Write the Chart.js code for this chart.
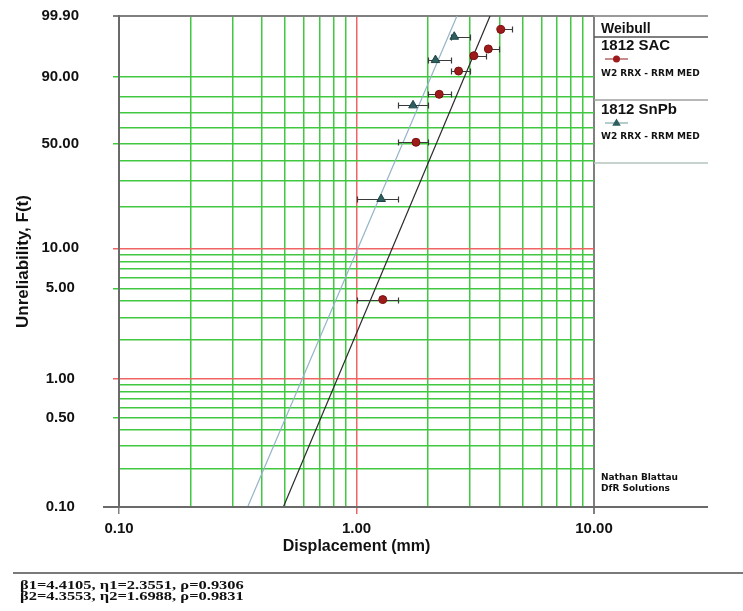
<!DOCTYPE html>
<html>
<head>
<meta charset="utf-8">
<script src="https://cdn.jsdelivr.net/npm/chart.js@4.4.0/dist/chart.umd.min.js"></script>
<style>
  html, body { margin: 0; padding: 0; background: #fff; }
  #wrap { width: 743px; height: 611px; position: relative; }
</style>
</head>
<body>
<div id="wrap"><canvas id="weibullChart"></canvas></div>
<script>
// values: displacement (mm) vs unreliability F(t) in %
const sacDisp  = [1.29, 1.78, 2.23, 2.69, 3.12, 3.59, 4.05];
const sacUnrel = [4.1, 50.9, 81.5, 92.3, 96.6, 97.8, 99.56];
const sacLow   = [1.0, 1.5, 2.0, 2.5, 3.0, 3.5, 4.0];
const sacHigh  = [1.5, 2.0, 2.5, 3.0, 3.5, 4.0, 4.5];

const snpbDisp  = [1.27, 1.73, 2.15, 2.58];
const snpbUnrel = [22.6, 74.9, 95.6, 99.14];
const snpbLow   = [1.0, 1.5, 2.0, 2.5];
const snpbHigh  = [1.5, 2.0, 2.5, 3.0];

// fitted lines, end points where they leave the plot (0.1% and 99.9%)
const sacFitDisp  = [0.492, 3.65];
const snpbFitDisp = [0.348, 2.648];
const fitUnrel    = [0.1, 99.9];

const seriesNames = ['1812 SAC', '1812 SnPb'];
const seriesMethod = 'W2 RRX - RRM MED';
const betas = [4.4105, 4.3553];
const etas  = [2.3551, 1.6988];
const rhos  = [0.9306, 0.9831];

const xGrid = [0.1, 0.2, 0.3, 0.4, 0.5, 0.6, 0.7, 0.8, 0.9, 1, 2, 3, 4, 5, 6, 7, 8, 9, 10];
const xLabelled = [0.1, 1, 10];
const yGrid = [0.1, 0.2, 0.3, 0.4, 0.5, 0.6, 0.7, 0.8, 0.9, 1, 2, 3, 4, 5, 6, 7, 8, 9,
               10, 20, 30, 40, 50, 60, 70, 80, 90, 99.9];
const yLabelled = [0.1, 0.5, 1, 5, 10, 50, 90, 99.9];

const GREEN = '#40c840';
const RED = '#f06464';
const EDGE = '#808080';
const SANS = '"Liberation Sans", Arial, sans-serif';

// Weibull probability scale: ln(-ln(1-F))
const weib = p => Math.log(-Math.log(1 - p / 100));

class WeibullScale extends Chart.Scale {
  determineDataLimits() {
    this.min = this.options.min;
    this.max = this.options.max;
  }
  buildTicks() {
    return yGrid.map(v => ({ value: v }));
  }
  configure() {
    super.configure();
    this._wStart = weib(this.min);
    this._wRange = weib(this.max) - this._wStart;
  }
  getPixelForValue(v) {
    return this.getPixelForDecimal((weib(v) - this._wStart) / this._wRange);
  }
  getValueForPixel(p) {
    const w = this._wStart + this.getDecimalForPixel(p) * this._wRange;
    return 100 * (1 - Math.exp(-Math.exp(w)));
  }
  getLabelForValue(v) {
    return v.toFixed(2);
  }
}
WeibullScale.id = 'weibull';
WeibullScale.defaults = {};
Chart.register(WeibullScale);

function gridColor(v, edges) {
  if (edges.includes(v)) return EDGE;
  if (v === 1 || v === 10) return RED;
  return GREEN;
}

const errorBars = {
  id: 'errorBars',
  beforeDatasetDraw(chart, args) {
    const ds = chart.data.datasets[args.index];
    if (!ds.errLow) return;
    const { ctx, scales: { x, y } } = chart;
    ctx.save();
    ctx.strokeStyle = '#3a3a3a';
    ctx.lineWidth = 1.2;
    ds.data.forEach((pt, i) => {
      const py = Math.round(y.getPixelForValue(pt.y)) + 0.5;
      const x1 = Math.round(x.getPixelForValue(ds.errLow[i])) + 0.5;
      const x2 = Math.round(x.getPixelForValue(ds.errHigh[i])) + 0.5;
      ctx.beginPath();
      ctx.moveTo(x1, py); ctx.lineTo(x2, py);
      ctx.moveTo(x1, py - 3); ctx.lineTo(x1, py + 3);
      ctx.moveTo(x2, py - 3); ctx.lineTo(x2, py + 3);
      ctx.stroke();
    });
    ctx.restore();
  }
};

function rule(ctx, x1, y1, x2, y2, color, width) {
  ctx.beginPath();
  ctx.strokeStyle = color;
  ctx.lineWidth = width;
  ctx.moveTo(x1, y1);
  ctx.lineTo(x2, y2);
  ctx.stroke();
}

function triangle(ctx, cx, cy, r) {
  ctx.beginPath();
  ctx.moveTo(cx, cy - r);
  ctx.lineTo(cx + r * 0.95, cy + r * 0.6);
  ctx.lineTo(cx - r * 0.95, cy + r * 0.6);
  ctx.closePath();
  ctx.fill();
}

const frame = {
  id: 'frame',
  afterDraw(chart) {
    const { ctx, chartArea: a } = chart;
    const edgeR = 708;
    const lx = a.right + 7;
    ctx.save();
    // top / bottom rules run on under the legend
    rule(ctx, a.right, a.top, edgeR, a.top, '#9a9a9a', 2);
    rule(ctx, a.left - 16, a.bottom, edgeR, a.bottom, '#6a6a6a', 2);

    // legend box
    ctx.fillStyle = '#111';
    ctx.textBaseline = 'middle';
    ctx.textAlign = 'left';
    ctx.font = 'bold 14px ' + SANS;
    ctx.fillText('Weibull', lx, 29);
    rule(ctx, a.right, 37, edgeR, 37, '#555', 1.5);

    ctx.font = 'bold 15px ' + SANS;
    ctx.fillText(seriesNames[0], lx, 46);
    rule(ctx, lx + 4, 59, lx + 27, 59, '#8a1a1a', 1);
    ctx.fillStyle = '#9e1b1b';
    ctx.beginPath(); ctx.arc(lx + 15.5, 59, 3.5, 0, Math.PI * 2); ctx.fill();
    ctx.fillStyle = '#111';
    ctx.font = 'bold 9px "DejaVu Sans", Verdana, sans-serif';
    ctx.fillText(seriesMethod, lx, 74);
    rule(ctx, a.right, 100, edgeR, 100, '#a0a0a0', 1.5);

    ctx.font = 'bold 15px ' + SANS;
    ctx.fillText(seriesNames[1], lx, 110);
    rule(ctx, lx + 4, 123, lx + 27, 123, '#6a9a9a', 1);
    ctx.fillStyle = '#2e5e5e';
    triangle(ctx, lx + 15.5, 123, 4.5);
    ctx.fillStyle = '#111';
    ctx.font = 'bold 9px "DejaVu Sans", Verdana, sans-serif';
    ctx.fillText(seriesMethod, lx, 137);
    rule(ctx, a.right, 163, edgeR, 163, '#b4c4bc', 1.5);

    ctx.fillText('Nathan Blattau', lx, 478);
    ctx.fillText('DfR Solutions', lx, 489);

    // fit parameters under the plot
    rule(ctx, 13, 573, 743, 573, '#7a7a7a', 2);
    ctx.font = 'bold 13.5px "Liberation Serif", "Times New Roman", serif';
    betas.forEach((b, i) => {
      const txt = 'β' + (i + 1) + '=' + b.toFixed(4) + ', η' + (i + 1) + '=' +
                  etas[i].toFixed(4) + ', ρ=' + rhos[i].toFixed(4);
      ctx.save();
      ctx.translate(20, 585.5 + i * 11.5);
      ctx.scale(1.22, 1);
      ctx.fillText(txt, 0, 0);
      ctx.restore();
    });
    ctx.restore();
  }
};

const toPoints = (xs, ys) => xs.map((v, i) => ({ x: v, y: ys[i] }));

new Chart(document.getElementById('weibullChart'), {
  type: 'scatter',
  data: {
    datasets: [
      {
        label: seriesNames[0],
        data: toPoints(sacDisp, sacUnrel),
        errLow: sacLow,
        errHigh: sacHigh,
        pointStyle: 'circle',
        pointRadius: 4,
        backgroundColor: '#9e1b1b',
        borderColor: '#7a1010',
        borderWidth: 1
      },
      {
        label: seriesNames[1],
        data: toPoints(snpbDisp, snpbUnrel),
        errLow: snpbLow,
        errHigh: snpbHigh,
        pointStyle: 'triangle',
        pointRadius: 5,
        backgroundColor: '#2e5e5e',
        borderColor: '#1f4545',
        borderWidth: 1
      },
      {
        label: seriesNames[0] + ' fit',
        data: toPoints(sacFitDisp, fitUnrel),
        showLine: true,
        pointRadius: 0,
        borderColor: '#2a2a2a',
        borderWidth: 1.2
      },
      {
        label: seriesNames[1] + ' fit',
        data: toPoints(snpbFitDisp, fitUnrel),
        showLine: true,
        pointRadius: 0,
        borderColor: '#94b4c8',
        borderWidth: 1.2
      }
    ]
  },
  options: {
    responsive: true,
    maintainAspectRatio: false,
    animation: false,
    layout: { padding: { top: 16, right: 149, bottom: 44, left: 0 } },
    plugins: { legend: { display: false }, tooltip: { enabled: false } },
    scales: {
      x: {
        type: 'logarithmic',
        min: 0.1,
        max: 10,
        afterBuildTicks: axis => { axis.ticks = xGrid.map(v => ({ value: v })); },
        afterFit: axis => { axis.height = 60; },
        grid: {
          color: c => gridColor(xGrid[c.index], [0.1, 10]),
          lineWidth: c => (xGrid[c.index] === 10 ? 2 : 1.5),
          tickLength: 7,
          tickColor: c => (xLabelled.includes(xGrid[c.index]) ? gridColor(xGrid[c.index], [0.1, 10]) : 'rgba(0,0,0,0)')
        },
        border: { color: '#6a6a6a', width: 2 },
        ticks: {
          autoSkip: false,
          maxRotation: 0,
          padding: 6,
          color: '#111',
          font: { family: SANS, size: 15, weight: 'bold' },
          callback: v => (xLabelled.includes(v) ? v.toFixed(2) : '')
        },
        title: {
          display: true,
          text: 'Displacement (mm)',
          color: '#111',
          font: { family: SANS, size: 16, weight: 'bold' },
          padding: { top: 0, bottom: 11 }
        }
      },
      y: {
        type: 'weibull',
        position: 'left',
        min: 0.1,
        max: 99.9,
        afterFit: axis => {
          axis.width = 119;
          axis.paddingTop = 8;
          axis.paddingBottom = 8;
        },
        grid: {
          color: c => gridColor(yGrid[c.index], [0.1, 99.9]),
          lineWidth: c => (yGrid[c.index] === 99.9 ? 2 : 1.5),
          tickLength: 6,
          tickColor: c => (yLabelled.includes(yGrid[c.index]) ? gridColor(yGrid[c.index], [0.1, 99.9]) : 'rgba(0,0,0,0)')
        },
        border: { color: '#6a6a6a', width: 2 },
        ticks: {
          autoSkip: false,
          crossAlign: 'center',
          padding: 34,
          color: '#111',
          font: { family: SANS, size: 15, weight: 'bold' },
          callback: v => (yLabelled.includes(v) ? v.toFixed(2) : '')
        },
        title: {
          display: true,
          text: 'Unreliability, F(t)',
          color: '#111',
          font: { family: SANS, size: 17, weight: 'bold' },
          padding: { top: 13, bottom: 0 }
        }
      }
    }
  },
  plugins: [errorBars, frame]
});
</script>
</body>
</html>
